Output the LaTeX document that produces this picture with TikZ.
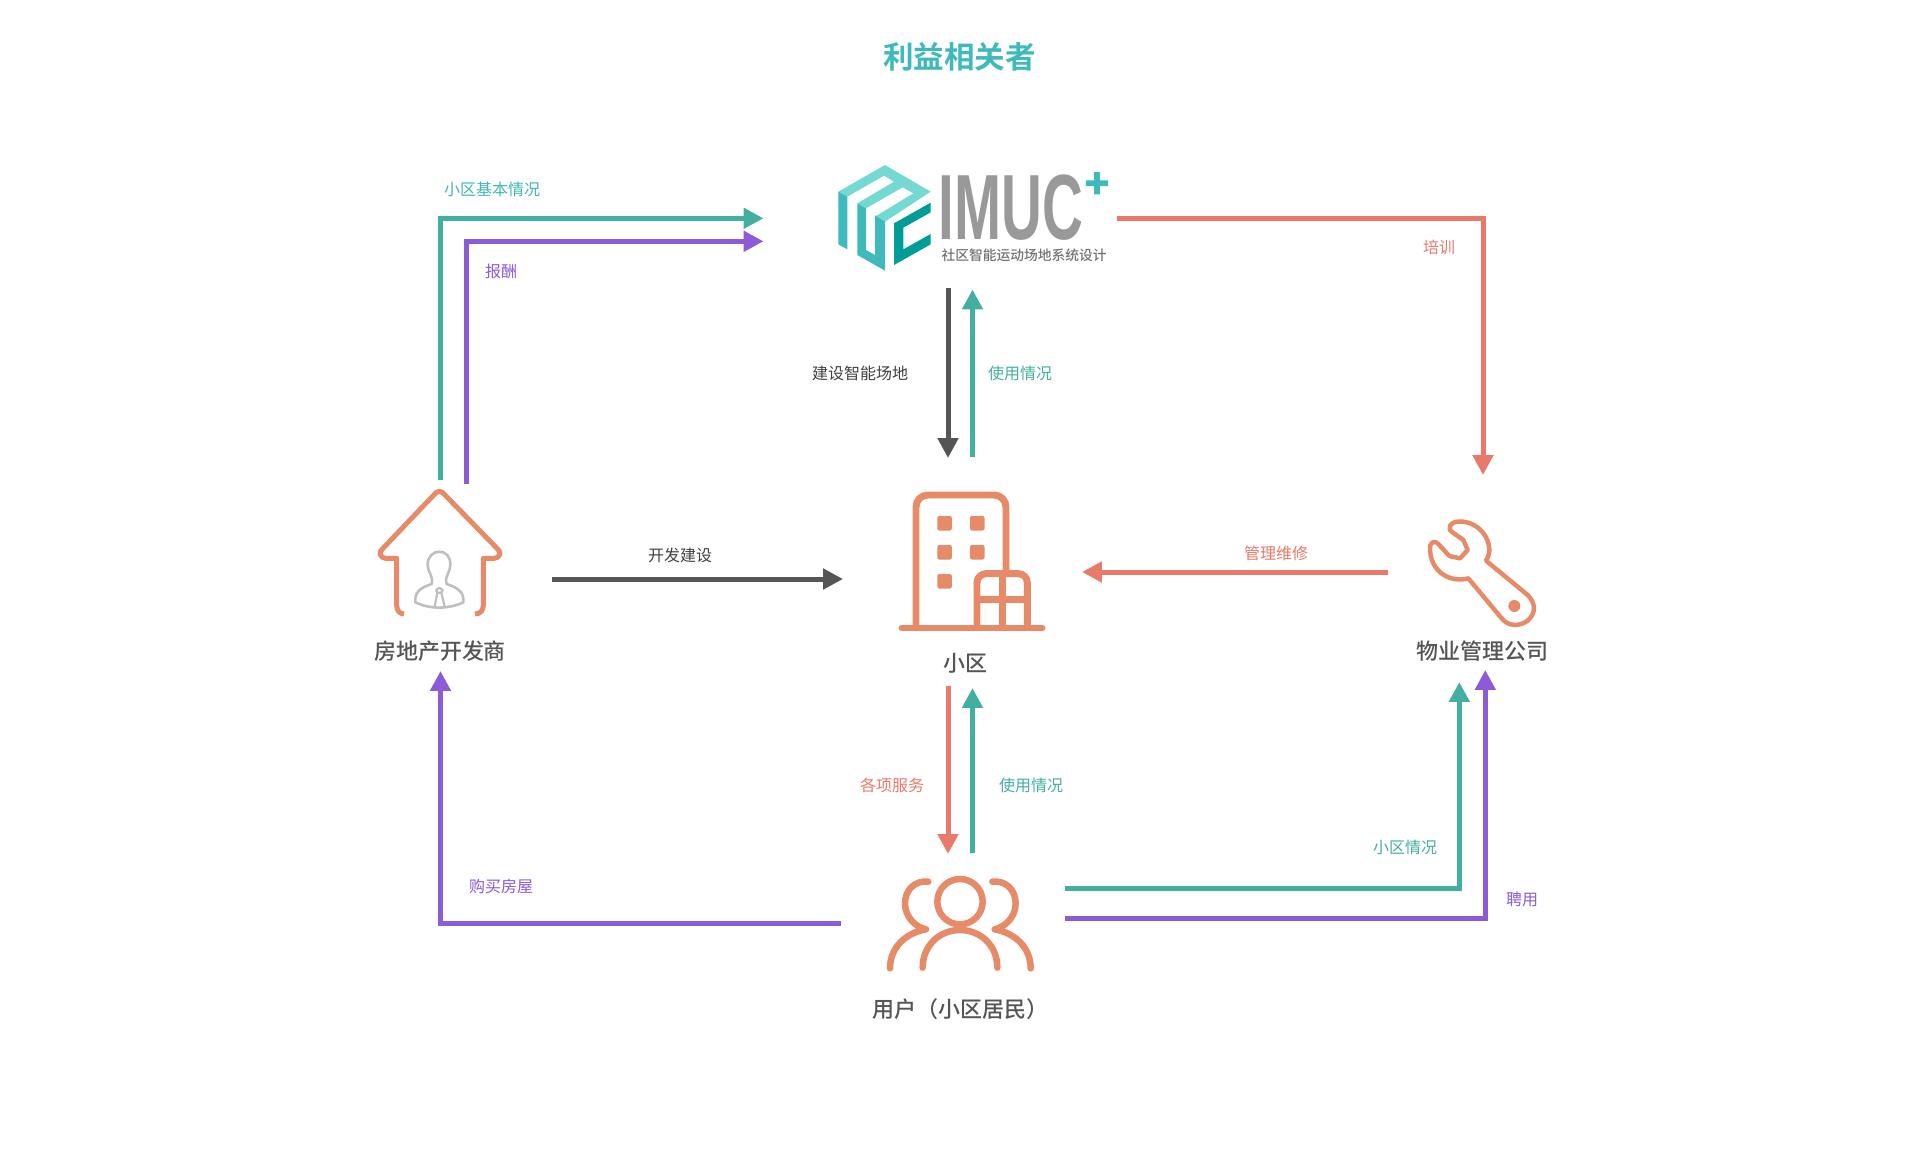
\documentclass[tikz,border=0pt]{standalone}
\usepackage{fontspec}
\setmainfont{Noto Sans CJK SC}
\newfontfamily\medcjk{Noto Sans CJK SC Medium}
\newfontfamily\boldcjk{Noto Sans CJK SC Bold}
\newfontfamily\logofont{Liberation Sans}
\newfontfamily\plusfont{Liberation Sans}[FakeBold=7]
\usetikzlibrary{arrows.meta}
\definecolor{cgreen}{HTML}{43AFA0}
\definecolor{cpurple}{HTML}{8C5BD8}
\definecolor{cred}{HTML}{E9796A}
\definecolor{cdark}{HTML}{555555}
\definecolor{corange}{HTML}{E68A68}
\definecolor{cteal}{HTML}{3FBABC}
\definecolor{clight}{HTML}{74D9D2}
\definecolor{cdeep}{HTML}{009C98}
\tikzset{
 flow/.style={line width=5pt,line join=miter,-{Triangle[length=20pt,width=20pt]}},
 lab/.style={inner sep=0pt,font=\fontsize{16.06}{16}\selectfont},
 actor/.style={inner sep=0pt,text=cdark,font=\fontsize{22.08}{22}\selectfont\medcjk},
 icon/.style={draw=corange,line width=5pt,line join=round,line cap=round},
 bicon/.style={draw=corange,line width=7pt,rounded corners=12pt},
 win/.style={fill=corange,rounded corners=2pt},
}
\begin{document}
\begin{tikzpicture}[x=1bp,y=-1bp]
\useasboundingbox (0,0) rectangle (1918,1154);
\fill[white] (0,0) rectangle (1918,1154);
% coordinates
\coordinate (devA) at (440.5,480);
\coordinate (devAc) at (440.5,218.3);
\coordinate (logoA) at (763.5,218.3);
\coordinate (devB) at (466.7,484);
\coordinate (devBc) at (466.7,241.3);
\coordinate (logoB) at (763.5,241.3);
\coordinate (logoR) at (1117,218.3);
\coordinate (logoRc) at (1483,218.3);
\coordinate (mgmtT) at (1483,475);
\coordinate (logoD) at (948,288);
\coordinate (blockT1) at (948,458);
\coordinate (blockT2) at (972.5,457);
\coordinate (logoU) at (972.5,289.5);
\coordinate (devR) at (552,579);
\coordinate (blockL) at (843,579);
\coordinate (mgmtL) at (1388,572);
\coordinate (blockR) at (1082,572);
\coordinate (blockB1) at (948,686);
\coordinate (userT1) at (948,854);
\coordinate (userT2) at (972.5,853);
\coordinate (blockB2) at (972.5,688);
\coordinate (userR1) at (1065,888);
\coordinate (userR1c) at (1459.3,888);
\coordinate (mgmtB1) at (1459.3,682);
\coordinate (userR2) at (1065,918);
\coordinate (userR2c) at (1485.3,918);
\coordinate (mgmtB2) at (1485.3,670);
\coordinate (userL) at (841,923.5);
\coordinate (userLc) at (440.5,923.5);
\coordinate (devBm) at (440.5,671);
% connectors
\draw[flow,cgreen] (devA) -- (devAc) -- (logoA);
\draw[flow,cpurple] (devB) -- (devBc) -- (logoB);
\draw[flow,cred] (logoR) -- (logoRc) -- (mgmtT);
\draw[flow,cdark] (logoD) -- (blockT1);
\draw[flow,cgreen] (blockT2) -- (logoU);
\draw[flow,cdark] (devR) -- (blockL);
\draw[flow,cred] (mgmtL) -- (blockR);
\draw[flow,cred] (blockB1) -- (userT1);
\draw[flow,cgreen] (userT2) -- (blockB2);
\draw[flow,cgreen] (userR1) -- (userR1c) -- (mgmtB1);
\draw[flow,cpurple] (userR2) -- (userR2c) -- (mgmtB2);
\draw[flow,cpurple] (userL) -- (userLc) -- (devBm);
% title
\node[inner sep=0pt,text=cteal,font=\fontsize{30.7}{30}\selectfont\boldcjk] (title) at (959.5,56.5) {利益相关者};
% logo
\begin{scope}[shift={(830,155)},scale=1/3]
\fill[clight,even odd rule] (25,110) -- (165,30) -- (302,110) -- (165,200) -- (138,183) -- (250,115) -- (218,97) -- (108,160) -- (82,145) -- (192,80) -- (162,62) -- (52,125) -- cycle;
\fill[cteal] (25,110) -- (52,125) -- (52,283) -- (25,268) -- cycle;
\fill[cteal] (82,145) -- (108,160) -- (108,285) -- (135,300) -- (135,181) -- (165,200) -- (165,347) -- (82,300) -- cycle;
\fill[cdeep] (192,205) -- (302,143) -- (302,172) -- (220,218) -- (220,283) -- (302,237) -- (302,268) -- (192,330) -- cycle;
\end{scope}
\node[inner sep=0pt,text=black!40,xscale=0.61,font=\fontsize{93}{93}\selectfont\logofont\bfseries] (imuc) at (1011,207.5) {IMUC};
\node[inner sep=0pt,text=cteal,font=\fontsize{40}{40}\selectfont\plusfont] (plus) at (1097,185) {+};
\node[inner sep=0pt,text=black!55,font=\fontsize{13.8}{14}\selectfont\medcjk] (logosub) at (1024,255) {社区智能运动场地系统设计};
% house
\begin{scope}[shift={(350,470)},scale=1/3]
\draw[icon,line width=5pt,line cap=butt] (162,432) .. controls (148,432) and (140,420) .. (140,405) -- (140,265) -- (108,265) .. controls (92,265) and (84,248) .. (96,238) -- (258,68) .. controls (264,62) and (272,62) .. (278,68) -- (444,238) .. controls (456,248) and (448,265) .. (432,265) -- (400,265) -- (400,405) .. controls (400,420) and (392,432) .. (375,432);
\draw[draw=black!25,line width=2.6pt,line join=round] (196,397) .. controls (194,370) and (205,355) .. (245,342) .. controls (252,320) and (232,305) .. (233,285) .. controls (232,260) and (250,245) .. (268,245) .. controls (288,245) and (302,260) .. (301,285) .. controls (302,305) and (282,320) .. (290,342) .. controls (330,355) and (342,370) .. (340,397) .. controls (295,418) and (240,418) .. (196,397) -- cycle;
\draw[draw=black!25,line width=2.2pt,line join=round] (262,368) -- (258,360) -- (268,353) -- (278,360) -- (274,368) -- cycle (262,368) -- (254,410) (274,368) -- (284,410);
\end{scope}
\node[actor] (dev) at (440,651.5) {房地产开发商};
% building
\draw[bicon] (916,628) -- (916,495) -- (1006,495) -- (1006,574);
\draw[bicon,rounded corners=9pt] (977,628) -- (977,573.7) -- (1027.3,573.7) -- (1027.3,628);
\draw[draw=corange,line width=7pt] (1002.3,573.7) -- (1002.3,628) (977,599.3) -- (1027.3,599.3);
\draw[draw=corange,line width=7pt,line cap=round] (902,628) -- (1042,628);
\foreach \wx/\wy in {937.3/516,970/516,937.3/545,970/545,937.3/574}
  \fill[win] (\wx,\wy) rectangle ++(14.5,14.5);
\node[actor] (block) at (965.5,663.5) {小区};
% wrench
\begin{scope}[shift={(1400,500)},scale=1/3]
\draw[icon,line width=4.5pt] (150,85) .. controls (145,72) and (165,62) .. (190,65) .. controls (235,70) and (268,110) .. (268,150) .. controls (268,165) and (262,175) .. (258,182) -- (383,285) .. controls (408,310) and (408,340) .. (383,362) .. controls (358,380) and (325,380) .. (305,355) -- (205,235) .. controls (150,250) and (90,215) .. (90,145) .. controls (90,125) and (105,120) .. (115,132) -- (148,168) -- (180,175) -- (203,150) -- (190,120) -- (155,95) .. controls (148,90) and (148,88) .. (150,85) -- cycle;
\fill[corange] (343,318) circle (18);
\end{scope}
\node[actor] (mgmt) at (1482,651.5) {物业管理公司};
% users
\begin{scope}[shift={(860,860)},scale=1/3]
\draw[icon,line width=6.5pt] (300,125) circle (68);
\draw[icon,line width=6.5pt] (188,323) .. controls (188,255) and (240,210) .. (300,210) .. controls (360,210) and (412,255) .. (412,323);
\draw[icon,line width=6.5pt] (205,65) .. controls (165,60) and (135,90) .. (135,130) .. controls (135,170) and (165,200) .. (198,208) .. controls (140,218) and (90,260) .. (90,325);
\draw[icon,line width=6.5pt] (397,65) .. controls (437,60) and (467,90) .. (467,130) .. controls (467,170) and (437,200) .. (404,208) .. controls (462,218) and (512,260) .. (512,325);
\end{scope}
\node[actor] (user) at (960,1009.5) {用户（小区居民）};
% labels
\node[lab,text=cteal!70!cgreen] (l1) at (492,189) {小区基本情况};
\node[lab,text=cpurple] (l2) at (501,271) {报酬};
\node[lab,text=cred] (l3) at (1439,247) {培训};
\node[lab,text=black!75] (l4) at (860,373) {建设智能场地};
\node[lab,text=cgreen] (l5) at (1020,373) {使用情况};
\node[lab,text=black!75] (l6) at (680,555.5) {开发建设};
\node[lab,text=cred] (l7) at (1276,553) {管理维修};
\node[lab,text=cred] (l8) at (892,785) {各项服务};
\node[lab,text=cgreen] (l9) at (1031,785) {使用情况};
\node[lab,text=cgreen] (l10) at (1405,847.5) {小区情况};
\node[lab,text=cpurple] (l11) at (1522,899.5) {聘用};
\node[lab,text=cpurple] (l12) at (501,886.5) {购买房屋};
\end{tikzpicture}
\end{document}
